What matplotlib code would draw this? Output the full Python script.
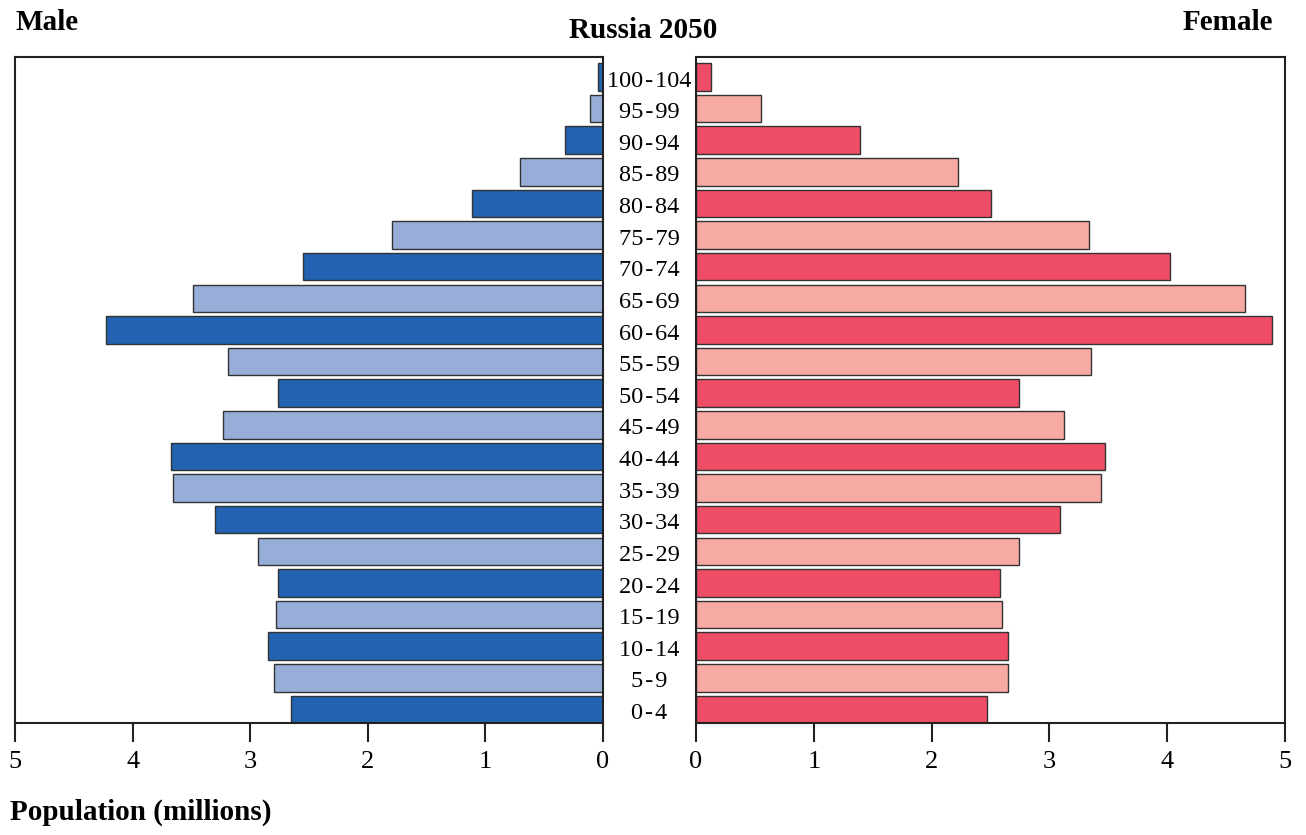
import matplotlib.pyplot as plt
import numpy as np

plt.rcParams['font.family'] = ['Liberation Serif', 'DejaVu Serif']

# --- DATA (millions) ---
age_groups = ["0-4", "5-9", "10-14", "15-19", "20-24", "25-29", "30-34",
              "35-39", "40-44", "45-49", "50-54", "55-59", "60-64",
              "65-69", "70-74", "75-79", "80-84", "85-89", "90-94",
              "95-99", "100-104"]
male = [2.65, 2.80, 2.85, 2.78, 2.76, 2.93, 3.30, 3.66, 3.67, 3.23, 2.76, 3.19,
        4.23, 3.49, 2.55, 1.79, 1.11, 0.71, 0.32, 0.11, 0.04]
female = [2.47, 2.65, 2.65, 2.60, 2.58, 2.74, 3.09, 3.44, 3.47, 3.12, 2.74, 3.35,
          4.89, 4.66, 4.02, 3.34, 2.50, 2.22, 1.39, 0.55, 0.13]

male_colors = ["#2262b0", "#97aed8"]
female_colors = ["#ef4c65", "#f7aaa4"]

W, H = 1306, 835
fig = plt.figure(figsize=(W / 100, H / 100), dpi=100)

bottom = 1 - 723 / H
height = (723 - 57) / H
ax_m = fig.add_axes([15 / W, bottom, 588 / W, height])
ax_f = fig.add_axes([696 / W, bottom, 589 / W, height])

y = np.arange(len(age_groups))
mc = [male_colors[i % 2] for i in y]
fc = [female_colors[i % 2] for i in y]

ax_m.barh(y, male, height=0.87, color=mc, edgecolor="#333333", linewidth=1)
ax_f.barh(y, female, height=0.87, color=fc, edgecolor="#333333", linewidth=1)

ax_m.set_xlim(5, 0)
ax_f.set_xlim(0, 5)
for ax in (ax_m, ax_f):
    ax.set_ylim(-0.43, 20.63)
    ax.set_yticks([])
    ax.set_xticks(range(6))
    ax.tick_params(axis='x', direction='out', length=14, width=1.5,
                   labelsize=19, pad=6, color="#222222")
    for s in ax.spines.values():
        s.set_linewidth(1.5)
        s.set_color("#222222")

# age labels in the gap between panels (hair spaces around the dash)
for i, lab in enumerate(age_groups):
    yy = ax_m.transData.transform((0, i))[1]
    fig.text(649 / W, yy / fig.dpi / fig.get_figheight() - 0.005,
             lab.replace("-", "\u200a-\u200a"),
             ha='center', va='center', fontsize=17.5)

fig.text(15 / W, 1 - 23 / H, "Male", ha='left', va='center', fontsize=21, fontweight='bold')
fig.text(643 / W, 1 - 31 / H, "Russia 2050", ha='center', va='center', fontsize=21, fontweight='bold')
fig.text(1273 / W, 1 - 23 / H, "Female", ha='right', va='center', fontsize=21, fontweight='bold')
fig.text(10 / W, 1 - 812 / H, "Population (millions)", ha='left', va='center',
         fontsize=21, fontweight='bold')

fig.savefig("out.png", dpi=100)
plt.close()
